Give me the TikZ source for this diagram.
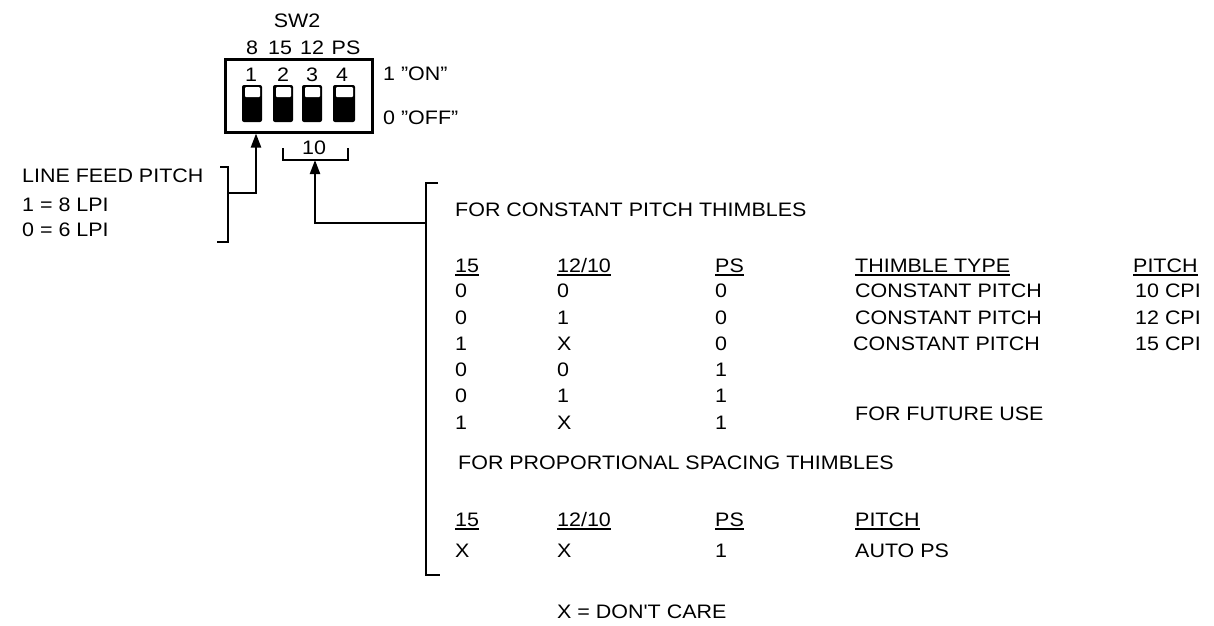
\documentclass[tikz,border=0pt]{standalone}
\usepackage{fontspec}
\newfontfamily\lab{Liberation Sans}[FakeStretch=1.1]
\usetikzlibrary{arrows.meta}
\tikzset{
  txt/.style={inner sep=0pt, anchor=base west, font=\lab\fontsize{19.5}{20}\selectfont},
  ctxt/.style={txt, anchor=base},
  brk/.style={line width=2.2pt},
  arr/.style={line width=2.2pt, -{Triangle[length=14pt,width=10pt]}},
  swbody/.style={fill=black, rounded corners=2pt},
  swwin/.style={fill=white, rounded corners=1pt},
  uline/.style={line width=1.6pt}
}
\begin{document}
\begin{tikzpicture}[x=1pt,y=-1pt]
\useasboundingbox (0,0) rectangle (1214,625);
% switch box
\node[draw, line width=3pt, minimum width=147pt, minimum height=73pt, inner sep=0pt] (box) at (298.5,95.5) {};
\fill[swbody] (242,85) rectangle (262,122);
\fill[swwin] (245,87) rectangle (260,97);
\fill[swbody] (273,85) rectangle (293,122);
\fill[swwin] (276,87) rectangle (291,97);
\fill[swbody] (302,85) rectangle (322,122);
\fill[swwin] (305,87) rectangle (320,97);
\fill[swbody] (333,85) rectangle (355,122);
\fill[swwin] (336,87) rectangle (353,97);
\node[ctxt] (sw2) at (297,27) {SW2};
\node[ctxt] (l8) at (252,54) {8};
\node[ctxt] (l15) at (280,54) {15};
\node[ctxt] (l12) at (312,54) {12};
\node[ctxt] (lps) at (346,54) {PS};
\node[ctxt] (n1) at (251,81) {1};
\node[ctxt] (n2) at (283,81) {2};
\node[ctxt] (n3) at (312,81) {3};
\node[ctxt] (n4) at (342,81) {4};
\node[txt] (on) at (383,80) {1 ”ON”};
\node[txt] (off) at (383,124) {0 ”OFF”};
\node[ctxt] (ten) at (314,154) {10};
% 10 bracket
\draw[brk] (283,148) -- (283,160) -- (348,160) -- (348,148);
\coordinate (tenmid) at (315,160);
% line feed pitch
\node[txt] (lfp) at (22,182.5) {LINE FEED PITCH};
\node[txt] (lfp1) at (22,211) {1 = 8 LPI};
\node[txt] (lfp0) at (22,236) {0 = 6 LPI};
\draw[brk] (220,167) -- (228,167) -- (228,242) -- (217,242);
\coordinate (lfpj) at (228,193);
\coordinate (lfpc) at (256,193);
\draw[arr] (lfpj) -- (lfpc) -- (lfpc |- box.south);
% big bracket
\draw[brk] (438,183) -- (426,183) -- (426,575) -- (440,575);
\coordinate (bigj) at (426,223);
\coordinate (tenc) at (315,223);
\draw[arr] (bigj) -- (tenc) -- (tenmid);
% constant pitch table
\node[txt] (cpt) at (455,216) {FOR CONSTANT PITCH THIMBLES};
\node[txt] (h15) at (455,272) {15};
\node[txt] (h1210) at (557,272) {12/10};
\node[txt] (hps) at (715,272) {PS};
\node[txt] (htt) at (855,272) {THIMBLE TYPE};
\node[txt] (hp) at (1133,272) {PITCH};
\draw[uline] ([yshift=-3pt]h15.base west) -- ([yshift=-3pt]h15.base east);
\draw[uline] ([yshift=-3pt]h1210.base west) -- ([yshift=-3pt]h1210.base east);
\draw[uline] ([yshift=-3pt]hps.base west) -- ([yshift=-3pt]hps.base east);
\draw[uline] ([yshift=-3pt]htt.base west) -- ([yshift=-3pt]htt.base east);
\draw[uline] ([yshift=-3pt]hp.base west) -- ([yshift=-3pt]hp.base east);
% rows
\node[txt] (a1) at (455,297) {0};
\node[txt] (b1) at (557,297) {0};
\node[txt] (c1) at (715,297) {0};
\node[txt] (d1) at (855,297) {CONSTANT PITCH};
\node[txt] (e1) at (1135,297) {10 CPI};
\node[txt] (a2) at (455,324) {0};
\node[txt] (b2) at (557,324) {1};
\node[txt] (c2) at (715,324) {0};
\node[txt] (d2) at (855,324) {CONSTANT PITCH};
\node[txt] (e2) at (1135,324) {12 CPI};
\node[txt] (a3) at (455,350) {1};
\node[txt] (b3) at (557,350) {X};
\node[txt] (c3) at (715,350) {0};
\node[txt] (d3) at (853,350) {CONSTANT PITCH};
\node[txt] (e3) at (1135,350) {15 CPI};
\node[txt] (a4) at (455,376) {0};
\node[txt] (b4) at (557,376) {0};
\node[txt] (c4) at (715,376) {1};
\node[txt] (a5) at (455,402) {0};
\node[txt] (b5) at (557,402) {1};
\node[txt] (c5) at (715,402) {1};
\node[txt] (a6) at (455,429) {1};
\node[txt] (b6) at (557,429) {X};
\node[txt] (c6) at (715,429) {1};
\node[txt] (fut) at (855,420) {FOR FUTURE USE};
% proportional spacing
\node[txt] (pst) at (458,469) {FOR PROPORTIONAL SPACING THIMBLES};
\node[txt] (g15) at (455,526) {15};
\node[txt] (g1210) at (557,526) {12/10};
\node[txt] (gps) at (715,526) {PS};
\node[txt] (gp) at (855,526) {PITCH};
\draw[uline] ([yshift=-3pt]g15.base west) -- ([yshift=-3pt]g15.base east);
\draw[uline] ([yshift=-3pt]g1210.base west) -- ([yshift=-3pt]g1210.base east);
\draw[uline] ([yshift=-3pt]gps.base west) -- ([yshift=-3pt]gps.base east);
\draw[uline] ([yshift=-3pt]gp.base west) -- ([yshift=-3pt]gp.base east);
\node[txt] (x1) at (455,557) {X};
\node[txt] (x2) at (557,557) {X};
\node[txt] (x3) at (715,557) {1};
\node[txt] (x4) at (855,557) {AUTO PS};
\node[txt] (dc) at (557,618) {X = DON'T CARE};
\end{tikzpicture}
\end{document}
